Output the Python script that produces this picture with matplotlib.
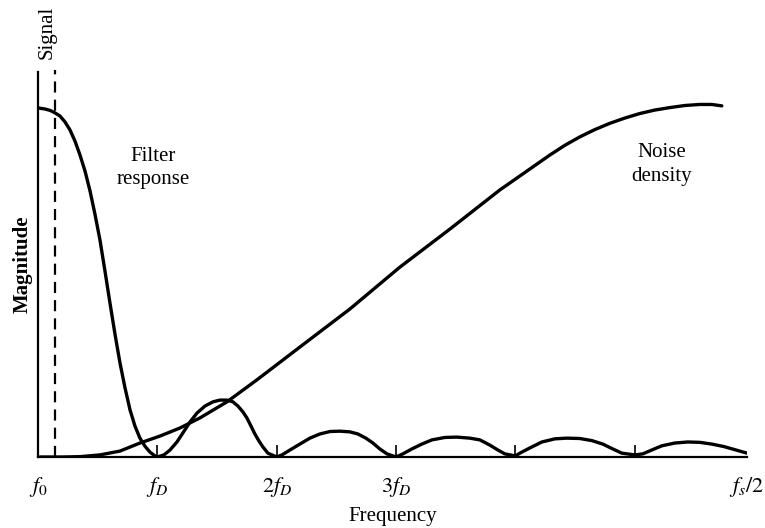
import numpy as np
import matplotlib
matplotlib.use('Agg')
import matplotlib.pyplot as plt

plt.rcParams['font.family'] = 'Liberation Serif'
plt.rcParams['mathtext.fontset'] = 'stix'

# frequency axis in units of f_D, magnitude normalised to the filter peak
filter_f = [0.0, 0.059, 0.101, 0.142, 0.184, 0.226, 0.268, 0.310, 0.352, 0.394,
            0.436, 0.477, 0.519, 0.561, 0.603, 0.645, 0.687, 0.729, 0.771, 0.812,
            0.854, 0.896, 0.938, 0.980, 1.0,
            1.055, 1.106, 1.164, 1.214, 1.273, 1.332, 1.399, 1.466, 1.524, 1.583,
            1.633, 1.675, 1.717, 1.750, 1.784, 1.817, 1.851, 1.884, 1.926, 2.0,
            2.044, 2.111, 2.194, 2.278, 2.362, 2.446, 2.529, 2.613, 2.680, 2.747,
            2.806, 2.864, 2.923, 3.0,
            3.057, 3.132, 3.216, 3.300, 3.409, 3.509, 3.618, 3.702, 3.786, 3.853,
            3.911, 4.0,
            4.037, 4.121, 4.221, 4.330, 4.430, 4.539, 4.640, 4.732, 4.816, 4.891,
            5.0,
            5.067, 5.142, 5.226, 5.335, 5.444, 5.544, 5.645, 5.745, 5.838, 5.94]
filter_mag = [1.0, 0.997, 0.993, 0.986, 0.977, 0.960, 0.937, 0.905, 0.865, 0.819,
              0.762, 0.696, 0.622, 0.533, 0.441, 0.352, 0.269, 0.198, 0.135, 0.089,
              0.054, 0.031, 0.014, 0.003, 0.0,
              0.006, 0.020, 0.043, 0.069, 0.100, 0.126, 0.146, 0.158, 0.163, 0.163,
              0.158, 0.146, 0.129, 0.112, 0.089, 0.066, 0.046, 0.029, 0.011, 0.0,
              0.006, 0.020, 0.037, 0.054, 0.066, 0.073, 0.074, 0.072, 0.066, 0.054,
              0.040, 0.023, 0.009, 0.0,
              0.009, 0.023, 0.037, 0.049, 0.056, 0.057, 0.054, 0.049, 0.034, 0.020,
              0.009, 0.003,
              0.011, 0.026, 0.043, 0.052, 0.054, 0.053, 0.047, 0.037, 0.023, 0.011,
              0.006,
              0.009, 0.020, 0.032, 0.040, 0.043, 0.042, 0.037, 0.030, 0.021, 0.011]

noise_f = [0.017, 0.209, 0.352, 0.519, 0.687, 0.854, 1.022, 1.189, 1.357, 1.583,
           1.834, 2.194, 2.613, 3.032, 3.451, 3.869, 4.288, 4.414, 4.539, 4.665,
           4.791, 4.916, 5.042, 5.168, 5.293, 5.419, 5.544, 5.645, 5.729]
noise_mag = [0.0, 0.0, 0.001, 0.006, 0.017, 0.040, 0.060, 0.083, 0.112, 0.158,
             0.221, 0.315, 0.424, 0.544, 0.653, 0.765, 0.865, 0.893, 0.917, 0.938,
             0.956, 0.971, 0.984, 0.994, 1.001, 1.007, 1.010, 1.010, 1.006]

signal_f = 0.142
tick_pos = [1, 2, 3, 4, 5]
tick_labels = [r'$f_D$', r'$2f_D$', r'$3f_D$', '', '']
end_pos = [0.0, 5.94]
end_labels = [r'$f_0$', r'$f_s/2$']

fig = plt.figure(figsize=(7.65, 5.28), dpi=100)
ax = fig.add_axes([38/765, 71/528, (747-38)/765, (457-72)/528])

ax.plot(filter_f, filter_mag, color='black', lw=2.4,
        solid_capstyle='round', solid_joinstyle='round')
ax.plot(noise_f, noise_mag, color='black', lw=2.4,
        solid_capstyle='round', solid_joinstyle='round')
ax.plot([signal_f, signal_f], [0, 1.11], color='black', lw=1.6,
        dashes=(5, 3.2), clip_on=False)

ax.set_xlim(0, 5.94)
ax.set_ylim(0, 1.103)
for s in ['top', 'right']:
    ax.spines[s].set_visible(False)
ax.spines['left'].set_linewidth(1.6)
ax.spines['bottom'].set_linewidth(1.6)

ax.set_yticks([])
ax.set_xticks(tick_pos)
ax.set_xticklabels(tick_labels, fontsize=16)
ax.tick_params(axis='x', which='major', direction='in', length=9, width=1.2, pad=13)
ax.set_xticks(end_pos, minor=True)
ax.set_xticklabels(end_labels, minor=True, fontsize=16)
ax.tick_params(axis='x', which='minor', direction='in', length=0, pad=13)

ax.set_xlabel('Frequency', fontsize=15, labelpad=6)
ax.set_ylabel('Magnitude', fontsize=15, fontweight='bold', labelpad=4)

ax.text(signal_f - 0.065, 1.14, 'Signal', rotation=90, fontsize=15,
        ha='center', va='bottom')
ax.text(0.965, 0.828, 'Filter\nresponse', fontsize=15, ha='center', va='center',
        linespacing=1.35)
ax.text(5.226, 0.837, 'Noise\ndensity', fontsize=15, ha='center', va='center',
        linespacing=1.35)

fig.savefig('out.png', dpi=100)
